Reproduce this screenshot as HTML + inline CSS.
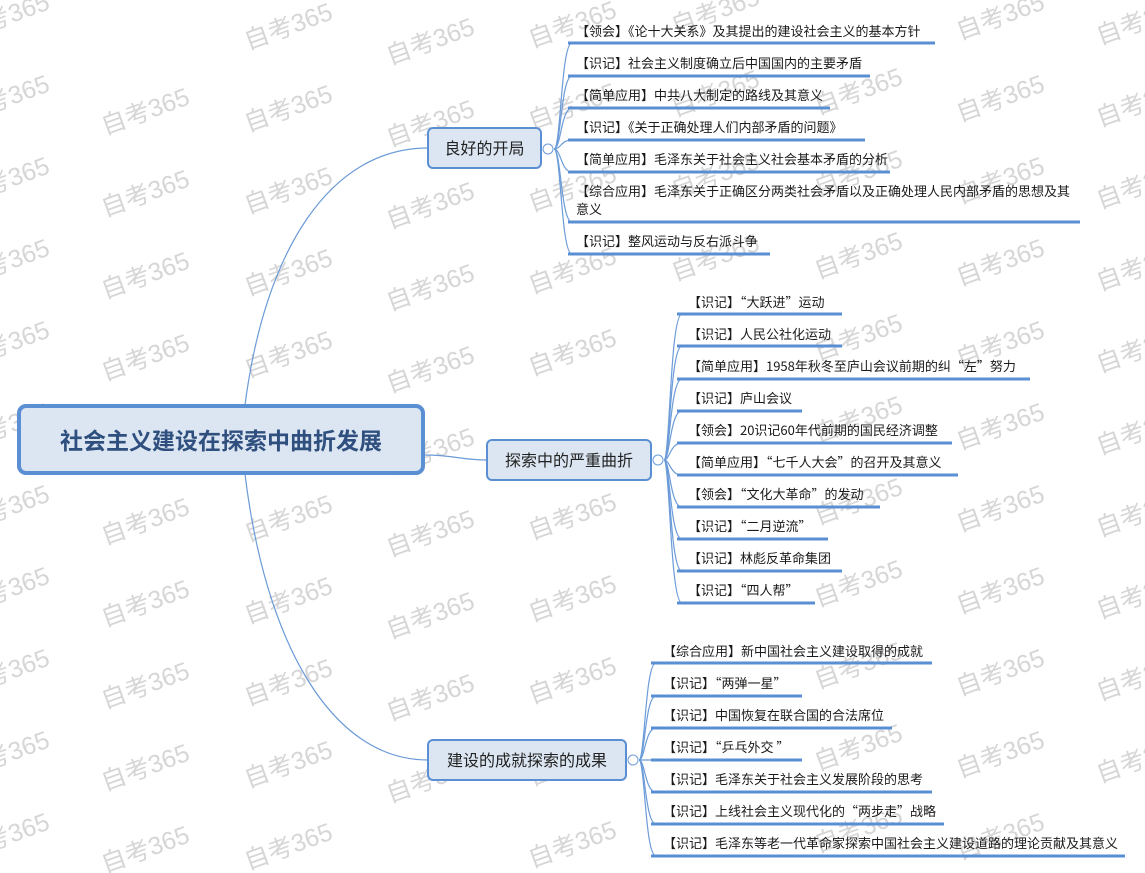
<!DOCTYPE html>
<html><head><meta charset="utf-8"><style>
html,body{margin:0;padding:0;background:#fff;}
svg{display:block;font-family:"Liberation Sans","Noto Sans CJK SC","WenQuanYi Zen Hei",sans-serif;}
.wm{fill:#d6d6d6;font-size:25px;}
.lt{font-size:13px;fill:#1a1a1a;font-family:"Noto Sans CJK SC","WenQuanYi Zen Hei",sans-serif;}
.ln{stroke:#5b8fd4;stroke-width:3;fill:none;}
.cv{stroke:#6b9bd8;stroke-width:1.2;fill:none;}
</style></head><body>
<svg width="1145" height="873" viewBox="0 0 1145 873" xmlns="http://www.w3.org/2000/svg">
<g class="wm">
<text transform="translate(-35,40) rotate(-20)">自考365</text>
<text transform="translate(-35,122) rotate(-20)">自考365</text>
<text transform="translate(-35,204) rotate(-20)">自考365</text>
<text transform="translate(-35,286) rotate(-20)">自考365</text>
<text transform="translate(-35,368) rotate(-20)">自考365</text>
<text transform="translate(-35,450) rotate(-20)">自考365</text>
<text transform="translate(-35,532) rotate(-20)">自考365</text>
<text transform="translate(-35,614) rotate(-20)">自考365</text>
<text transform="translate(-35,696) rotate(-20)">自考365</text>
<text transform="translate(-35,778) rotate(-20)">自考365</text>
<text transform="translate(-35,860) rotate(-20)">自考365</text>
<text transform="translate(105,135) rotate(-20)">自考365</text>
<text transform="translate(105,217) rotate(-20)">自考365</text>
<text transform="translate(105,299) rotate(-20)">自考365</text>
<text transform="translate(105,381) rotate(-20)">自考365</text>
<text transform="translate(105,545) rotate(-20)">自考365</text>
<text transform="translate(105,627) rotate(-20)">自考365</text>
<text transform="translate(105,709) rotate(-20)">自考365</text>
<text transform="translate(105,791) rotate(-20)">自考365</text>
<text transform="translate(105,873) rotate(-20)">自考365</text>
<text transform="translate(248,50) rotate(-20)">自考365</text>
<text transform="translate(248,132) rotate(-20)">自考365</text>
<text transform="translate(248,214) rotate(-20)">自考365</text>
<text transform="translate(248,296) rotate(-20)">自考365</text>
<text transform="translate(248,378) rotate(-20)">自考365</text>
<text transform="translate(248,460) rotate(-20)">自考365</text>
<text transform="translate(248,542) rotate(-20)">自考365</text>
<text transform="translate(248,624) rotate(-20)">自考365</text>
<text transform="translate(248,706) rotate(-20)">自考365</text>
<text transform="translate(248,788) rotate(-20)">自考365</text>
<text transform="translate(248,870) rotate(-20)">自考365</text>
<text transform="translate(390,65) rotate(-20)">自考365</text>
<text transform="translate(390,147) rotate(-20)">自考365</text>
<text transform="translate(390,229) rotate(-20)">自考365</text>
<text transform="translate(390,311) rotate(-20)">自考365</text>
<text transform="translate(390,393) rotate(-20)">自考365</text>
<text transform="translate(390,475) rotate(-20)">自考365</text>
<text transform="translate(390,557) rotate(-20)">自考365</text>
<text transform="translate(390,639) rotate(-20)">自考365</text>
<text transform="translate(390,721) rotate(-20)">自考365</text>
<text transform="translate(390,803) rotate(-20)">自考365</text>
<text transform="translate(532,48) rotate(-20)">自考365</text>
<text transform="translate(532,130) rotate(-20)">自考365</text>
<text transform="translate(532,212) rotate(-20)">自考365</text>
<text transform="translate(532,294) rotate(-20)">自考365</text>
<text transform="translate(532,376) rotate(-20)">自考365</text>
<text transform="translate(532,540) rotate(-20)">自考365</text>
<text transform="translate(532,622) rotate(-20)">自考365</text>
<text transform="translate(532,704) rotate(-20)">自考365</text>
<text transform="translate(532,786) rotate(-20)">自考365</text>
<text transform="translate(532,868) rotate(-20)">自考365</text>
<text transform="translate(675,35) rotate(-20)">自考365</text>
<text transform="translate(675,117) rotate(-20)">自考365</text>
<text transform="translate(675,199) rotate(-20)">自考365</text>
<text transform="translate(675,281) rotate(-20)">自考365</text>
<text transform="translate(818,115) rotate(-20)">自考365</text>
<text transform="translate(818,197) rotate(-20)">自考365</text>
<text transform="translate(818,279) rotate(-20)">自考365</text>
<text transform="translate(818,361) rotate(-20)">自考365</text>
<text transform="translate(818,443) rotate(-20)">自考365</text>
<text transform="translate(818,525) rotate(-20)">自考365</text>
<text transform="translate(818,607) rotate(-20)">自考365</text>
<text transform="translate(818,689) rotate(-20)">自考365</text>
<text transform="translate(818,771) rotate(-20)">自考365</text>
<text transform="translate(818,853) rotate(-20)">自考365</text>
<text transform="translate(960,40) rotate(-20)">自考365</text>
<text transform="translate(960,122) rotate(-20)">自考365</text>
<text transform="translate(960,204) rotate(-20)">自考365</text>
<text transform="translate(960,286) rotate(-20)">自考365</text>
<text transform="translate(960,368) rotate(-20)">自考365</text>
<text transform="translate(960,450) rotate(-20)">自考365</text>
<text transform="translate(960,532) rotate(-20)">自考365</text>
<text transform="translate(960,614) rotate(-20)">自考365</text>
<text transform="translate(960,696) rotate(-20)">自考365</text>
<text transform="translate(960,778) rotate(-20)">自考365</text>
<text transform="translate(960,860) rotate(-20)">自考365</text>
<text transform="translate(1100,45) rotate(-20)">自考365</text>
<text transform="translate(1100,127) rotate(-20)">自考365</text>
<text transform="translate(1100,209) rotate(-20)">自考365</text>
<text transform="translate(1100,291) rotate(-20)">自考365</text>
<text transform="translate(1100,373) rotate(-20)">自考365</text>
<text transform="translate(1100,455) rotate(-20)">自考365</text>
<text transform="translate(1100,537) rotate(-20)">自考365</text>
<text transform="translate(1100,619) rotate(-20)">自考365</text>
<text transform="translate(1100,701) rotate(-20)">自考365</text>
<text transform="translate(1100,783) rotate(-20)">自考365</text>
</g>

<path class="cv" d="M245,405 C265,250 330,148 428,148"/>
<path class="cv" d="M424,455 C455,455 460,460 487,460"/>
<path class="cv" d="M245,474 C265,640 330,760 428,760"/>

<g>
<path class="cv" d="M554,149 C561,149 561,43 572,43"/>
<path class="cv" d="M554,149 C561,149 561,76 572,76"/>
<path class="cv" d="M554,149 C561,149 561,108 572,108"/>
<path class="cv" d="M554,149 C561,149 561,140 572,140"/>
<path class="cv" d="M554,149 C561,149 561,172 572,172"/>
<path class="cv" d="M554,149 C561,149 561,222 572,222"/>
<path class="cv" d="M554,149 C561,149 561,254 572,254"/>
<path class="ln" d="M568,43H935M568,76H870M568,108H830M568,140H865M568,172H890M568,222H1080M568,254H770"/>
<circle cx="548" cy="149" r="5" fill="#fff" stroke="#6b9bd8"/>
<text class="lt" x="576" y="36">【领会】《论十大关系》及其提出的建设社会主义的基本方针</text>
<text class="lt" x="576" y="68">【识记】社会主义制度确立后中国国内的主要矛盾</text>
<text class="lt" x="576" y="100">【简单应用】中共八大制定的路线及其意义</text>
<text class="lt" x="576" y="132">【识记】《关于正确处理人们内部矛盾的问题》</text>
<text class="lt" x="576" y="164">【简单应用】毛泽东关于社会主义社会基本矛盾的分析</text>
<text class="lt" x="576" y="196">【综合应用】毛泽东关于正确区分两类社会矛盾以及正确处理人民内部矛盾的思想及其</text>
<text class="lt" x="576" y="214">意义</text>
<text class="lt" x="576" y="246">【识记】整风运动与反右派斗争</text>
</g>

<g>
<path class="cv" d="M664,460 C670,460 670,314 682,314"/>
<path class="cv" d="M664,460 C670,460 670,346 682,346"/>
<path class="cv" d="M664,460 C670,460 670,379 682,379"/>
<path class="cv" d="M664,460 C670,460 670,411 682,411"/>
<path class="cv" d="M664,460 C670,460 670,443 682,443"/>
<path class="cv" d="M664,460 C670,460 670,475 682,475"/>
<path class="cv" d="M664,460 C670,460 670,507 682,507"/>
<path class="cv" d="M664,460 C670,460 670,539 682,539"/>
<path class="cv" d="M664,460 C670,460 670,571 682,571"/>
<path class="cv" d="M664,460 C670,460 670,603 682,603"/>
<path class="ln" d="M677,314H842M677,346H842M677,379H1030M677,411H802M677,443H952M677,475H958M677,507H880M677,539H828M677,571H842M677,603H815"/>
<circle cx="658" cy="460" r="5" fill="#fff" stroke="#6b9bd8"/>
<text class="lt" x="688" y="307">【识记】“大跃进”运动</text>
<text class="lt" x="688" y="339">【识记】人民公社化运动</text>
<text class="lt" x="688" y="371">【简单应用】1958年秋冬至庐山会议前期的纠“左”努力</text>
<text class="lt" x="688" y="403">【识记】庐山会议</text>
<text class="lt" x="688" y="435">【领会】20识记60年代前期的国民经济调整</text>
<text class="lt" x="688" y="467">【简单应用】“七千人大会”的召开及其意义</text>
<text class="lt" x="688" y="499">【领会】“文化大革命”的发动</text>
<text class="lt" x="688" y="531">【识记】“二月逆流”</text>
<text class="lt" x="688" y="563">【识记】林彪反革命集团</text>
<text class="lt" x="688" y="595">【识记】“四人帮”</text>
</g>

<g>
<path class="cv" d="M639,760 C645,760 645,663 656,663"/>
<path class="cv" d="M639,760 C645,760 645,696 656,696"/>
<path class="cv" d="M639,760 C645,760 645,728 656,728"/>
<path class="cv" d="M639,760 C645,760 645,760 656,760"/>
<path class="cv" d="M639,760 C645,760 645,792 656,792"/>
<path class="cv" d="M639,760 C645,760 645,824 656,824"/>
<path class="cv" d="M639,760 C645,760 645,856 656,856"/>
<path class="ln" d="M651,663H932M651,696H802M651,728H892M651,760H802M651,792H932M651,824H944M651,856H1125"/>
<circle cx="633" cy="760" r="5" fill="#fff" stroke="#6b9bd8"/>
<text class="lt" x="663" y="656">【综合应用】新中国社会主义建设取得的成就</text>
<text class="lt" x="663" y="688">【识记】“两弹一星”</text>
<text class="lt" x="663" y="720">【识记】中国恢复在联合国的合法席位</text>
<text class="lt" x="663" y="752">【识记】“乒乓外交 ”</text>
<text class="lt" x="663" y="784">【识记】毛泽东关于社会主义发展阶段的思考</text>
<text class="lt" x="663" y="816">【识记】上线社会主义现代化的“两步走”战略</text>
<text class="lt" x="663" y="848">【识记】毛泽东等老一代革命家探索中国社会主义建设道路的理论贡献及其意义</text>
</g>

<rect x="19" y="406" width="404" height="67" rx="7" fill="#dce6f2" stroke="#5b8fd4" stroke-width="4"/>
<text x="221" y="449" text-anchor="middle" font-size="23" font-weight="bold" fill="#2f4f7f">社会主义建设在探索中曲折发展</text>

<rect x="428" y="128" width="113" height="40" rx="5" fill="#dce6f2" stroke="#5b8fd4" stroke-width="2"/>
<text x="484.5" y="154" text-anchor="middle" font-size="16" fill="#222">良好的开局</text>

<rect x="487" y="440" width="164" height="40" rx="5" fill="#dce6f2" stroke="#5b8fd4" stroke-width="2"/>
<text x="569" y="466" text-anchor="middle" font-size="16" fill="#222">探索中的严重曲折</text>

<rect x="428" y="740" width="198" height="40" rx="5" fill="#dce6f2" stroke="#5b8fd4" stroke-width="2"/>
<text x="527" y="766" text-anchor="middle" font-size="16" fill="#222">建设的成就探索的成果</text>
</svg>
</body></html>
